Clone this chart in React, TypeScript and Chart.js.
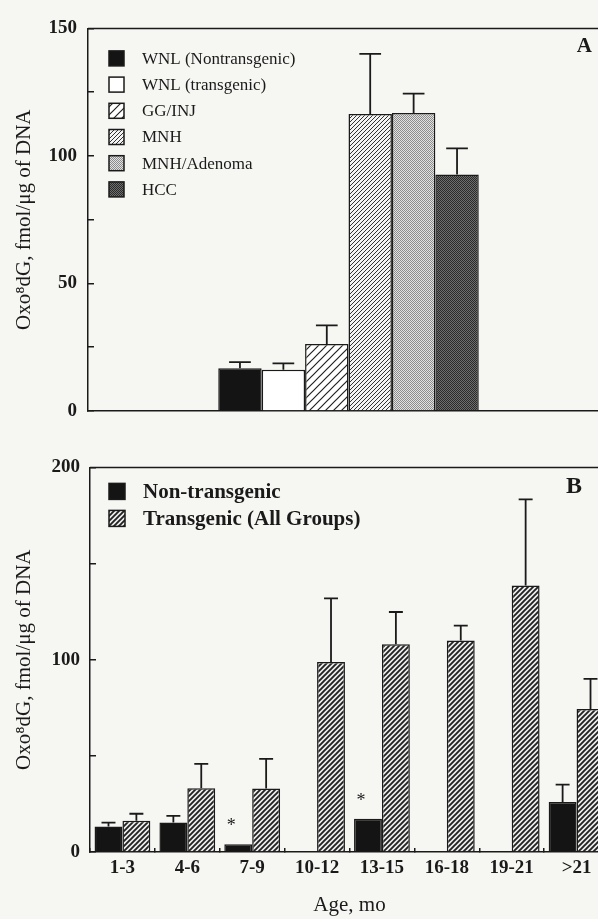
import React, { useEffect, useRef } from 'react';
import { Chart, registerables } from 'chart.js';

Chart.register(...registerables);

// ---------- Panel A data ----------
const groupsA = ['WNL (Nontransgenic)', 'WNL (transgenic)', 'GG/INJ', 'MNH', 'MNH/Adenoma', 'HCC'];
const valuesA = [16.8, 16.2, 26.3, 116.4, 116.8, 92.7];
const errorsA = [2.4, 2.5, 7.3, 23.6, 7.6, 10.3];

// ---------- Panel B data ----------
const ageLabels = ['1-3', '4-6', '7-9', '10-12', '13-15', '16-18', '19-21', '>21'];
const nonTransgenic = [13.2, 15.3, 4.0, null, 17.3, null, null, 26.0];
const nonTransgenicErr = [2.1, 3.5, 0, 0, 0, 0, 0, 9.0];
const transgenic = [16.3, 33.1, 33.0, 98.8, 108.0, 110.0, 138.6, 74.4];
const transgenicErr = [3.6, 12.7, 15.4, 33.1, 16.8, 7.7, 44.8, 15.6];
const significant = [false, false, true, false, true, false, false, false];
const seriesB = ['Non-transgenic', 'Transgenic (All Groups)'];

const yTitle = 'Oxo\u2078dG, fmol/\u03bcg of DNA';
const xTitleB = 'Age, mo';

const SERIF = "'Liberation Serif', 'Times New Roman', serif";
const INK = '#1a1a1a';

function hatch(size: number, lw: number, fg: string, bg: string) {
  const c = document.createElement('canvas');
  c.width = size;
  c.height = size;
  const g = c.getContext('2d')!;
  g.fillStyle = bg;
  g.fillRect(0, 0, size, size);
  g.strokeStyle = fg;
  g.lineWidth = lw;
  g.beginPath();
  g.moveTo(-1, size + 1);
  g.lineTo(size + 1, -1);
  g.moveTo(-1, 1);
  g.lineTo(1, -1);
  g.moveTo(size - 1, size + 1);
  g.lineTo(size + 1, size - 1);
  g.stroke();
  return g.createPattern(c, 'repeat')!;
}

function stipple(fg: string, bg: string) {
  const c = document.createElement('canvas');
  c.width = 4;
  c.height = 4;
  const g = c.getContext('2d')!;
  g.fillStyle = bg;
  g.fillRect(0, 0, 4, 4);
  g.fillStyle = fg;
  for (let x = 0; x < 4; x++) {
    for (let y = 0; y < 4; y++) {
      if ((x + y) % 2 === 0) g.fillRect(x, y, 1, 1);
    }
  }
  return g.createPattern(c, 'repeat')!;
}

function makeDecor(
  errors: number[][],
  legendOpts: { dx: number; dy: number; step: number; box: number; font: string; textDx: number },
  letter: { text: string; dx: number; dy: number; font: string },
  marks?: boolean[]
) {
  return {
    id: 'decor',
    afterDatasetsDraw(chart: any) {
      const ctx: CanvasRenderingContext2D = chart.ctx;
      const area = chart.chartArea;
      const y = chart.scales.y;
      ctx.save();
      // top frame line
      ctx.strokeStyle = INK;
      ctx.lineWidth = 1.5;
      ctx.beginPath();
      ctx.moveTo(area.left, area.top);
      ctx.lineTo(area.right, area.top);
      ctx.stroke();
      // error bars
      chart.data.datasets.forEach((ds: any, i: number) => {
        const meta = chart.getDatasetMeta(i);
        meta.data.forEach((bar: any, j: number) => {
          const v = ds.data[j];
          const e = errors[i] ? errors[i][j] : 0;
          if (v == null || !e) return;
          const p = bar.getProps(['x', 'y', 'width'], true);
          const top = y.getPixelForValue(v + e);
          const cap = p.width * 0.5;
          ctx.strokeStyle = INK;
          ctx.lineWidth = 1.8;
          ctx.beginPath();
          ctx.moveTo(p.x, p.y);
          ctx.lineTo(p.x, top);
          ctx.moveTo(p.x - cap / 2, top);
          ctx.lineTo(p.x + cap / 2, top);
          ctx.stroke();
        });
      });
      // significance asterisks on first dataset
      if (marks) {
        const meta = chart.getDatasetMeta(0);
        ctx.fillStyle = INK;
        ctx.font = `18px ${SERIF}`;
        ctx.textAlign = 'center';
        ctx.textBaseline = 'alphabetic';
        marks.forEach((m, j) => {
          if (!m) return;
          const p = meta.data[j].getProps(['x', 'y'], true);
          ctx.fillText('*', p.x - 7, p.y - 13);
        });
      }
      // legend
      chart.data.datasets.forEach((ds: any, i: number) => {
        const bx = area.left + legendOpts.dx;
        const cy = area.top + legendOpts.dy + i * legendOpts.step;
        const s = legendOpts.box;
        ctx.fillStyle = ds.backgroundColor;
        ctx.fillRect(bx, cy - s / 2, s, s);
        ctx.strokeStyle = INK;
        ctx.lineWidth = 1.5;
        ctx.strokeRect(bx, cy - s / 2, s, s);
        ctx.fillStyle = INK;
        ctx.font = legendOpts.font;
        ctx.textAlign = 'left';
        ctx.textBaseline = 'middle';
        ctx.fillText(ds.label, bx + legendOpts.textDx, cy + 1);
      });
      // panel letter
      ctx.fillStyle = INK;
      ctx.font = letter.font;
      ctx.textAlign = 'right';
      ctx.textBaseline = 'alphabetic';
      ctx.fillText(letter.text, area.right - letter.dx, area.top + letter.dy);
      ctx.restore();
    },
  };
}

export default function App() {
  const refA = useRef<HTMLCanvasElement>(null);
  const refB = useRef<HTMLCanvasElement>(null);

  useEffect(() => {
    const fillsA = [
      '#141414',
      '#ffffff',
      hatch(8, 1.2, '#222', '#ffffff'),
      hatch(4, 1, '#333', '#f4f4f4'),
      stipple('#8c8c8c', '#e2e2e2'),
      stipple('#2a2a2a', '#6e6e6e'),
    ];
    const fillsB = ['#141414', hatch(5, 1.9, '#222', '#eeeeee')];

    const tickFont = { family: SERIF, size: 19, weight: 'bold' as const };
    const titleFont = { family: SERIF, size: 21 };

    const chartA = new Chart(refA.current!, {
      type: 'bar',
      data: {
        labels: [''],
        datasets: groupsA.map((g, i) => ({
          label: g,
          data: [valuesA[i]],
          backgroundColor: fillsA[i] as any,
          borderColor: INK,
          borderWidth: 1.5,
        })),
      },
      options: {
        animation: false,
        responsive: false,
        layout: { padding: { top: 17, right: 1, left: 0, bottom: 0 } },
        datasets: { bar: { categoryPercentage: 0.5, barPercentage: 1 } },
        plugins: { legend: { display: false }, tooltip: { enabled: false } },
        scales: {
          x: {
            grid: { display: false },
            ticks: { display: false },
            border: { color: INK, width: 1.5 },
            afterFit: (s: any) => {
              s.height = 29;
            },
          },
          y: {
            min: 0,
            max: 150,
            ticks: {
              stepSize: 25,
              callback: (v: any) => (Number(v) % 50 === 0 ? String(v) : ''),
              font: tickFont,
              color: INK,
              padding: 17,
            },
            grid: { drawOnChartArea: false, tickLength: -6, color: INK, lineWidth: 1.5 },
            border: { color: INK, width: 1.5 },
            title: { display: true, text: yTitle, font: titleFont, color: INK, padding: { top: 12, bottom: 0 } },
            afterFit: (s: any) => {
              s.width = 88;
            },
          },
        },
      },
      plugins: [
        makeDecor(
          groupsA.map((_, i) => [errorsA[i]]),
          { dx: 21, dy: 30, step: 26.2, box: 15, font: `17px ${SERIF}`, textDx: 33 },
          { text: 'A', dx: 17, dy: 24, font: `bold 21px ${SERIF}` }
        ),
      ],
    });

    const chartB = new Chart(refB.current!, {
      type: 'bar',
      data: {
        labels: ageLabels,
        datasets: [
          {
            label: seriesB[0],
            data: nonTransgenic as any,
            backgroundColor: fillsB[0] as any,
            borderColor: INK,
            borderWidth: 1.5,
          },
          {
            label: seriesB[1],
            data: transgenic,
            backgroundColor: fillsB[1] as any,
            borderColor: INK,
            borderWidth: 1.5,
          },
        ],
      },
      options: {
        animation: false,
        responsive: false,
        layout: { padding: { top: 19, right: 1, left: 0, bottom: 0 } },
        datasets: { bar: { categoryPercentage: 0.86, barPercentage: 1 } },
        plugins: { legend: { display: false }, tooltip: { enabled: false } },
        scales: {
          x: {
            grid: { display: true, drawOnChartArea: false, offset: true, tickLength: -4, color: INK, lineWidth: 1.5 },
            ticks: { font: tickFont, color: INK, padding: 9, maxRotation: 0, autoSkip: false },
            border: { color: INK, width: 1.5 },
            title: { display: true, text: xTitleB, font: titleFont, color: INK, padding: { top: 0, bottom: 1 } },
            afterFit: (s: any) => {
              s.height = 67;
            },
          },
          y: {
            min: 0,
            max: 200,
            ticks: {
              stepSize: 50,
              callback: (v: any) => (Number(v) % 100 === 0 ? String(v) : ''),
              font: tickFont,
              color: INK,
              padding: 16,
            },
            grid: { drawOnChartArea: false, tickLength: -6, color: INK, lineWidth: 1.5 },
            border: { color: INK, width: 1.5 },
            title: { display: true, text: yTitle, font: titleFont, color: INK, padding: { top: 12, bottom: 0 } },
            afterFit: (s: any) => {
              s.width = 90;
            },
          },
        },
      },
      plugins: [
        makeDecor(
          [nonTransgenicErr, transgenicErr],
          { dx: 19, dy: 24, step: 27, box: 16, font: `bold 21px ${SERIF}`, textDx: 34 },
          { text: 'B', dx: 27, dy: 26, font: `bold 24px ${SERIF}` },
          significant
        ),
      ],
    });

    return () => {
      chartA.destroy();
      chartB.destroy();
    };
  }, []);

  return (
    <div
      style={{
        position: 'absolute',
        left: 0,
        top: 0,
        width: 598,
        height: 919,
        overflow: 'hidden',
        background: '#f6f6f3',
      }}
    >
      <div style={{ position: 'absolute', left: 0, top: 0 }}>
        <canvas ref={refA} width={610} height={440} style={{ display: 'block' }} />
      </div>
      <div style={{ position: 'absolute', left: 0, top: 440 }}>
        <canvas ref={refB} width={610} height={479} style={{ display: 'block' }} />
      </div>
    </div>
  );
}
